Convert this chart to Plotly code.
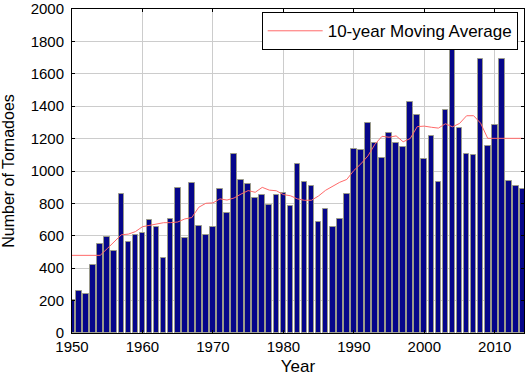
import plotly.graph_objects as go

years = list(range(1950, 2015))
tornadoes = [201, 260, 240, 421, 550, 593, 504, 856, 564, 604,
             616, 697, 657, 463, 704, 897, 585, 926, 660, 608,
             653, 888, 741, 1102, 947, 920, 835, 852, 788, 852,
             866, 783, 1046, 931, 907, 684, 764, 656, 702, 856,
             1133, 1132, 1297, 1173, 1082, 1235, 1173, 1148, 1424, 1345,
             1075, 1215, 934, 1374, 1817, 1265, 1103, 1096, 1692, 1156,
             1282, 1691, 938, 907, 886]
moving_avg = [479.3, 479.3, 479.3, 479.3, 479.3, 520.8, 564.5, 606.2, 610.4, 625.8,
              656.2, 664.3, 671.3, 680.9, 681.3, 685.0, 704.1, 712.5, 776.4, 800.7,
              803.0, 828.0, 820.6, 833.4, 857.8, 879.1, 868.6, 899.1, 882.0, 878.0,
              854.4, 847.3, 827.7, 819.1, 819.5, 846.2, 881.1, 906.2, 930.4, 947.9,
              1003.0, 1043.9, 1093.1, 1165.3, 1214.2, 1208.4, 1216.7, 1180.4, 1200.5, 1274.0,
              1277.0, 1270.0, 1264.8, 1291.6, 1272.7, 1293.4, 1341.0, 1341.4, 1294.7, 1201.6,
              1201.6, 1201.6, 1201.6, 1201.6, 1201.6]
x_ticks = [1950, 1960, 1970, 1980, 1990, 2000, 2010]
y_ticks = list(range(0, 2001, 200))

fig = go.Figure()
fig.add_trace(go.Bar(
    x=years, y=tornadoes, width=0.8, showlegend=False,
    marker=dict(color="#06068a", line=dict(color="#9a9a8a", width=1)),
))
fig.add_trace(go.Scatter(
    x=years, y=moving_avg, mode="lines", name="10-year Moving Average",
    line=dict(color="#ff6a6a", width=1),
))

axis_common = dict(
    showline=True, linecolor="#000000", linewidth=1, mirror="ticks",
    ticks="inside", ticklen=3, tickcolor="#000000",
    showgrid=True, gridcolor="#cccccc", gridwidth=1,
    zeroline=False, automargin=False, ticklabeloverflow="allow",
    tickfont=dict(family="Arial, Liberation Sans", size=15, color="#000000"),
)

fig.update_layout(
    width=529, height=376,
    margin=dict(l=72, r=5, t=9, b=43),
    paper_bgcolor="#ffffff", plot_bgcolor="#ffffff",
    bargap=0,
    font=dict(family="Arial, Liberation Sans", size=15, color="#000000"),
    xaxis=dict(range=[1950, 2014.15], tickvals=x_ticks,
               title=dict(text="Year", standoff=13, font=dict(size=17)),
               **axis_common),
    yaxis=dict(range=[0, 2000], tickvals=y_ticks, ticklabelstandoff=4,
               title=dict(text="Number of Tornadoes", standoff=17, font=dict(size=16)),
               **axis_common),
    legend=dict(x=0.986, y=0.99, xanchor="right", yanchor="top",
                bgcolor="#ffffff", bordercolor="#000000", borderwidth=1,
                font=dict(size=17), itemwidth=55),
)

# remove the default 8px page margin so the figure fills the window exactly
fig.write_html("out.html",
               config={"displayModeBar": False},
               post_script="document.body.style.margin='0';document.body.style.overflow='hidden';")
